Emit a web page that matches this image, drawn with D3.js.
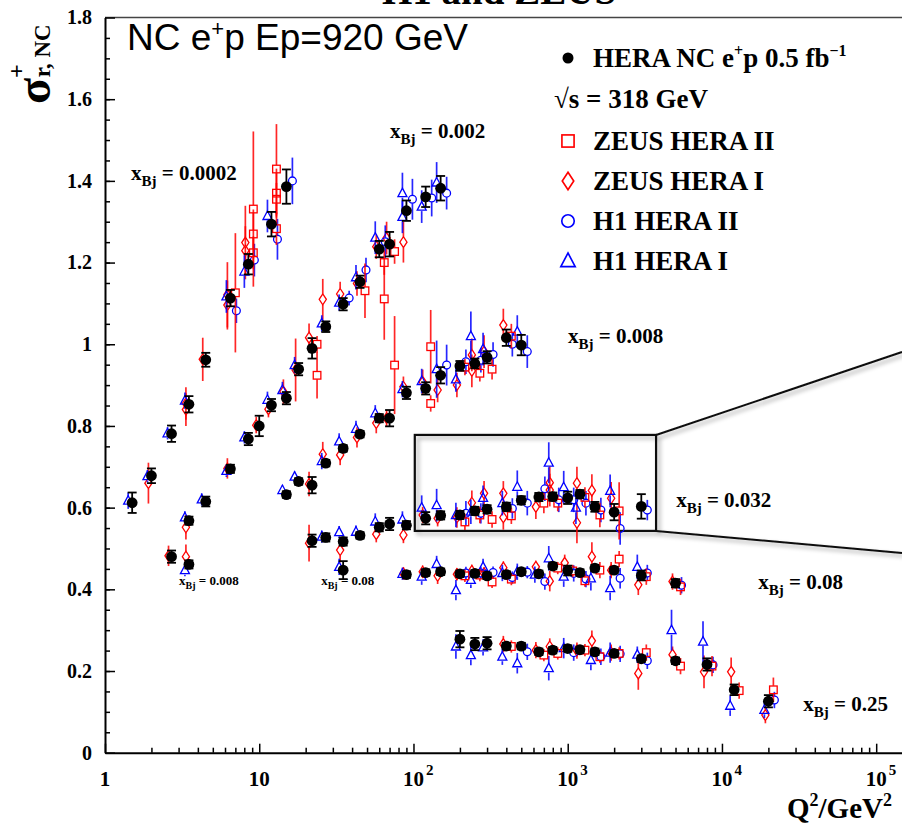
<!DOCTYPE html>
<html>
<head>
<meta charset="utf-8">
<script src="https://cdn.jsdelivr.net/npm/d3@7"></script>
<style>
  body { margin: 0; background: #fff; }
  svg { display: block; }
  text { font-family: "Liberation Serif", "Times New Roman", serif; font-weight: bold; fill: #000; }
</style>
</head>
<body>
<div id="chart"></div>
<script>
// every point is [Q2, sigma_r, error]
var heraComb = [
  // x = 0.0002
  [1.5,0.612,0.025],[2,0.678,0.018],[2.7,0.781,0.02],[3.5,0.853,0.02],[4.5,0.962,0.017],[6.5,1.113,0.02],[8.5,1.196,0.025],[12,1.294,0.03],[15,1.386,0.042],
  // x = 0.002
  [3.5,0.568,0.01],[4.5,0.615,0.012],[6.5,0.695,0.01],[8.5,0.768,0.015],[10,0.80,0.025],[12,0.851,0.015],[15,0.868,0.015],[18,0.939,0.015],[22,0.99,0.025],[27,1.043,0.013],[35,1.098,0.015],[45,1.153,0.015],[60,1.233,0.02],[70,1.245,0.03],[90,1.327,0.025],[120,1.361,0.025],[150,1.382,0.03],
  // x = 0.008
  [2.7,0.48,0.015],[3.5,0.461,0.01],[15,0.632,0.008],[18,0.664,0.008],[22,0.655,0.02],[27,0.709,0.008],[35,0.745,0.008],[45,0.78,0.008],[60,0.819,0.01],[70,0.819,0.02],[90,0.881,0.015],[120,0.892,0.015],[150,0.924,0.02],[200,0.947,0.012],[250,0.953,0.012],[300,0.968,0.015],[400,1.016,0.02],[500,0.998,0.025],
  // x = 0.032
  [22,0.519,0.015],[27,0.527,0.01],[35,0.517,0.01],[45,0.532,0.008],[60,0.552,0.01],[70,0.56,0.015],[90,0.557,0.01],[120,0.574,0.015],[150,0.581,0.01],[200,0.582,0.01],[250,0.592,0.01],[300,0.596,0.01],[400,0.602,0.01],[500,0.618,0.01],[650,0.626,0.01],[800,0.627,0.01],[1000,0.624,0.015],[1200,0.633,0.01],[1500,0.602,0.012],[2000,0.589,0.02],[3000,0.603,0.03],
  // x = 0.08
  [35,0.447,0.022],[90,0.436,0.008],[120,0.441,0.008],[150,0.443,0.008],[200,0.438,0.008],[250,0.439,0.008],[300,0.433,0.008],[400,0.436,0.008],[500,0.443,0.008],[650,0.438,0.008],[800,0.457,0.008],[1000,0.446,0.012],[1200,0.441,0.008],[1500,0.452,0.008],[2000,0.447,0.008],[3000,0.434,0.012],[5000,0.415,0.01],
  // x = 0.25
  [200,0.278,0.02],[250,0.266,0.015],[300,0.268,0.015],[400,0.261,0.008],[500,0.261,0.008],[650,0.247,0.008],[800,0.251,0.008],[1000,0.255,0.008],[1200,0.252,0.008],[1500,0.247,0.008],[2000,0.243,0.008],[3000,0.230,0.008],[5000,0.225,0.008],[8000,0.216,0.015],[12000,0.154,0.013],[20000,0.126,0.015]
];

var zeusHera2 = [
  [6.5,1.126,0.146],[8.5,1.331,0.19],[8.5,1.27,0.06],[8.5,1.224,0.04],[12,1.429,0.11],[12,1.37,0.06],[12,1.355,0.04],[12,1.283,0.04],
  [22,1.0,0.02],[22,0.924,0.057],[45,1.131,0.067],[60,1.2,0.03],[60,1.111,0.1],[70,1.227,0.03],
  [70,0.949,0.12],[120,0.994,0.09],[120,0.855,0.02],[200,0.944,0.02],[250,0.929,0.02],[300,0.939,0.025],[400,1.02,0.03],
  [200,0.565,0.02],[250,0.582,0.02],[300,0.571,0.02],[400,0.58,0.02],[650,0.611,0.025],[800,0.611,0.02],[1200,0.625,0.025],[1500,0.582,0.03],[2000,0.592,0.07],
  [200,0.433,0.015],[250,0.435,0.015],[300,0.418,0.015],[400,0.425,0.015],[800,0.452,0.015],[1000,0.445,0.015],[1200,0.421,0.015],[1500,0.447,0.02],[2000,0.474,0.02],[3000,0.431,0.02],[5000,0.406,0.02],
  [400,0.26,0.015],[650,0.239,0.015],[800,0.243,0.015],[1200,0.251,0.015],[1500,0.235,0.015],[2000,0.243,0.015],[3000,0.245,0.02],[5000,0.212,0.02],[8000,0.212,0.025],[12000,0.152,0.02],[20000,0.154,0.03]
];

var zeusHera1 = [
  [2,0.66,0.05],[3.5,0.855,0.04],[3.5,0.84,0.04],[4.5,0.963,0.053],[6.5,1.121,0.08],[6.5,1.096,0.06],[8.5,1.249,0.09],[8.5,1.229,0.06],
  [3.5,0.552,0.03],[6.5,0.696,0.025],[10,0.802,0.02],[12,0.841,0.02],[15,0.884,0.03],[18,0.937,0.077],[22,1.016,0.035],[27,1.11,0.05],[35,1.123,0.03],[45,1.149,0.03],[60,1.239,0.03],[70,1.26,0.04],[90,1.25,0.05],
  [2.7,0.482,0.025],[3.5,0.48,0.03],[22,0.658,0.03],[27,0.731,0.03],[35,0.729,0.025],[45,0.772,0.025],[60,0.807,0.025],[70,0.819,0.02],[90,0.896,0.025],[120,0.908,0.03],[150,0.888,0.03],[200,0.9,0.03],[250,0.974,0.04],[250,0.935,0.04],[300,0.982,0.04],[400,1.047,0.04],
  [22,0.513,0.045],[35,0.496,0.03],[60,0.535,0.02],[90,0.533,0.02],[120,0.582,0.02],[150,0.574,0.02],[200,0.576,0.025],[250,0.612,0.03],[300,0.635,0.03],[400,0.635,0.03],[400,0.576,0.03],[650,0.602,0.03],[800,0.661,0.04],[800,0.643,0.04],[1200,0.66,0.04],[1200,0.563,0.05],[1500,0.642,0.04],[2000,0.623,0.04],
  [90,0.439,0.015],[120,0.443,0.015],[150,0.433,0.02],[200,0.437,0.015],[250,0.445,0.015],[300,0.439,0.015],[400,0.453,0.015],[650,0.455,0.015],[800,0.42,0.025],[1000,0.465,0.02],[1500,0.48,0.035],[2000,0.447,0.02],[3000,0.411,0.025],[5000,0.419,0.02],
  [400,0.266,0.02],[650,0.251,0.02],[800,0.26,0.02],[1200,0.25,0.02],[1500,0.274,0.025],[2000,0.245,0.02],[3000,0.194,0.04],[5000,0.24,0.02],[8000,0.198,0.04],[12000,0.198,0.035],[20000,0.092,0.02]
];

var h1Hera2 = [
  [6.5,1.082,0.03],[8.5,1.206,0.04],[12,1.257,0.05],[15,1.40,0.057],
  [35,1.113,0.018],[45,1.182,0.03],[60,1.251,0.04],[90,1.355,0.05],[120,1.358,0.045],[150,1.37,0.04],
  [150,0.949,0.05],[200,0.957,0.03],[250,0.961,0.03],[300,0.975,0.03],[400,1.0,0.03],[500,0.982,0.04],
  [200,0.586,0.03],[250,0.586,0.025],[400,0.598,0.025],[500,0.611,0.03],[650,0.646,0.03],[800,0.619,0.03],[1000,0.619,0.03],[1200,0.611,0.03],[1500,0.594,0.03],[2000,0.549,0.04],[3000,0.594,0.025],
  [200,0.44,0.015],[250,0.44,0.015],[300,0.441,0.015],[400,0.429,0.015],[500,0.442,0.015],[650,0.419,0.02],[1000,0.439,0.02],[1200,0.425,0.02],[2000,0.427,0.025],[3000,0.44,0.02],[5000,0.41,0.02],
  [500,0.247,0.02],[1000,0.245,0.02],[1500,0.235,0.02],[2000,0.242,0.02],[3000,0.225,0.02],[8000,0.215,0.02],[20000,0.129,0.02]
];

var h1Hera1 = [
  [1.5,0.617,0.02],[2,0.677,0.015],[2.7,0.782,0.015],[3.5,0.862,0.02],[6.5,1.117,0.04],[8.5,1.178,0.04],[12,1.314,0.04],
  [3.5,0.576,0.015],[4.5,0.62,0.015],[6.5,0.69,0.015],[8.5,0.772,0.015],[12,0.864,0.02],[15,0.888,0.02],[18,0.949,0.02],[27,1.051,0.02],[35,1.102,0.02],[45,1.164,0.03],[60,1.261,0.04],[90,1.37,0.05],[90,1.312,0.04],[120,1.337,0.04],[150,1.396,0.05],
  [3.5,0.447,0.015],[15,0.643,0.012],[18,0.676,0.012],[27,0.714,0.02],[35,0.762,0.02],[45,0.793,0.02],[60,0.831,0.02],[90,0.89,0.02],[120,0.91,0.03],[150,0.939,0.07],[200,0.914,0.03],[250,1.02,0.06],[300,0.988,0.04],[500,1.031,0.04],
  [27,0.529,0.015],[35,0.54,0.015],[45,0.541,0.015],[60,0.566,0.02],[90,0.571,0.02],[120,0.6,0.03],[150,0.606,0.04],[200,0.582,0.03],[250,0.59,0.03],[300,0.624,0.03],[400,0.611,0.03],[500,0.651,0.04],[800,0.71,0.05],[1000,0.65,0.04],[1200,0.60,0.04],[2000,0.641,0.04],
  [35,0.455,0.02],[90,0.438,0.015],[120,0.431,0.02],[150,0.462,0.02],[200,0.398,0.025],[250,0.423,0.02],[300,0.455,0.02],[400,0.44,0.02],[500,0.443,0.02],[650,0.436,0.02],[800,0.476,0.03],[1000,0.431,0.025],[1500,0.427,0.03],[2000,0.403,0.03],[3000,0.455,0.03],
  [200,0.26,0.03],[250,0.239,0.025],[300,0.258,0.02],[400,0.235,0.02],[500,0.219,0.025],[800,0.207,0.03],[1000,0.256,0.025],[1500,0.227,0.025],[2000,0.245,0.025],[3000,0.24,0.02],[5000,0.30,0.05],[8000,0.272,0.05],[12000,0.115,0.025],[20000,0.105,0.02]
];

var legendNames = ['ZEUS HERA II', 'ZEUS HERA I', 'H1 HERA II', 'H1 HERA I'];

// x_Bj labels, anchored in data coordinates [Q2, sigma]
var binLabels = [['0.0002', 1.475, 1.402], ['0.002', 70.5, 1.505], ['0.008', 1006, 1.003],
                 ['0.032', 5047, 0.602], ['0.08', 17180, 0.401], ['0.25', 33650, 0.102]];
var smallLabels = [['0.008', 3.02, 0.411], ['0.08', 25.2, 0.411]];

var xTicks = [1, 10, 100, 1000, 10000, 100000];
var zoomBoxQ2 = [102, 3740], zoomBoxSigma = [0.543, 0.778];
var zoomLinkSigma = [0.981, 0.489];

var W = 902, H = 823;
var svg = d3.select('#chart').append('svg').attr('width', W).attr('height', H);

var x = d3.scaleLog().domain([1, 1.47e5]).range([105, 902]);
var y = d3.scaleLinear().domain([0, 1.8]).range([752.7, 17.5]);

var defs = svg.append('defs');
defs.append('filter').attr('id', 'shadow').attr('x', '-10%').attr('y', '-10%').attr('width', '130%').attr('height', '140%')
  .append('feDropShadow').attr('dx', 3).attr('dy', 3).attr('stdDeviation', 2)
  .attr('flood-color', '#000').attr('flood-opacity', 0.35);

// title, mostly cut off by the top edge (as in the original)
svg.append('text').attr('x', 382).attr('y', 4).style('font-size', '39px').text('H1 and ZEUS');

// frame top line
svg.append('line').attr('x1', 105).attr('x2', W).attr('y1', y(1.8)).attr('y2', y(1.8))
  .attr('stroke', '#444').attr('stroke-width', 1.5);

// y axis
var yAxis = d3.axisLeft(y).tickValues(d3.range(0, 1.81, 0.2)).tickSizeInner(-10).tickSizeOuter(0).tickPadding(13)
  .tickFormat(d => String(+d.toFixed(1)));
var gy = svg.append('g').attr('transform', 'translate(105,0)').call(yAxis);
gy.selectAll('text').style('font-size', '20px').style('font-family', '"Liberation Serif", serif');
svg.append('g').attr('transform', 'translate(105,0)')
  .call(d3.axisLeft(y).tickValues(d3.range(0.05, 1.8, 0.05)).tickSizeInner(-5).tickSizeOuter(0).tickFormat(''))
  .select('.domain').remove();

// x axis
var minor = [];
for (var e = 0; e < 6; e++) for (var k = 2; k < 10; k++) { var v = k * Math.pow(10, e); if (v < 1.47e5) minor.push(v); }
svg.append('g').attr('transform', 'translate(0,' + y(0) + ')')
  .call(d3.axisBottom(x).tickValues(xTicks).tickSizeInner(-9).tickSizeOuter(0).tickFormat(''));
svg.append('g').attr('transform', 'translate(0,' + y(0) + ')')
  .call(d3.axisBottom(x).tickValues(minor).tickSizeInner(-5).tickSizeOuter(0).tickFormat(''))
  .select('.domain').remove();
svg.selectAll('.domain').attr('stroke-width', 2);
svg.selectAll('.tick line').attr('stroke-width', 1.5);

xTicks.forEach(function (t) {
  var p = Math.round(Math.log10(t));
  var base = p < 2 ? String(t) : '10';
  var w = base.length * 10.5;
  var tx = svg.append('text').attr('x', x(t) - w / 2).attr('y', 786).style('font-size', '21px');
  tx.append('tspan').text(base);
  if (p >= 2) tx.append('tspan').attr('dy', -11).attr('dx', 2).style('font-size', '15px').text(p);
});

// axis titles
var xt = svg.append('text').attr('x', 787).attr('y', 818).style('font-size', '29px');
xt.append('tspan').text('Q');
xt.append('tspan').attr('dy', -12).style('font-size', '18px').text('2');
xt.append('tspan').attr('dy', 12).text('/GeV');
xt.append('tspan').attr('dy', -12).style('font-size', '18px').text('2');

var yt = svg.append('text').attr('transform', 'translate(50,104) rotate(-90)');
yt.append('tspan').style('font-size', '48px').text('σ');
yt.append('tspan').attr('dy', -26).style('font-size', '24px').text('+');
yt.append('tspan').attr('dx', -13).attr('dy', 26).style('font-size', '23px').text('r, NC');

svg.append('text').attr('x', 127).attr('y', 50)
  .style('font-family', '"Liberation Sans", Arial, sans-serif').style('font-weight', 'normal').style('font-size', '37px')
  .call(function (t) {
    t.append('tspan').text('NC e');
    t.append('tspan').attr('dy', -14).style('font-size', '22px').text('+');
    t.append('tspan').attr('dy', 14).text('p Ep=920 GeV');
  });

// zoom box and its link lines
var bx0 = x(zoomBoxQ2[0]), bx1 = x(zoomBoxQ2[1]), by0 = y(zoomBoxSigma[1]), by1 = y(zoomBoxSigma[0]);
var links = svg.append('g').attr('filter', 'url(#shadow)');
links.append('rect').attr('x', bx0).attr('y', by0).attr('width', bx1 - bx0).attr('height', by1 - by0)
  .attr('fill', 'none').attr('stroke', '#111').attr('stroke-width', 2.2);
links.append('line').attr('x1', bx1).attr('y1', by0).attr('x2', x(1.47e5)).attr('y2', y(zoomLinkSigma[0]))
  .attr('stroke', '#111').attr('stroke-width', 2);
links.append('line').attr('x1', bx1).attr('y1', by1).attr('x2', x(1.47e5)).attr('y2', y(zoomLinkSigma[1]))
  .attr('stroke', '#111').attr('stroke-width', 2);

// markers
var RED = '#f00', BLUE = '#00f';
function marker(g, type, cx, cy, color, s) {
  s = s || 1;
  if (type === 'square') {
    g.append('rect').attr('x', cx - 3.8 * s).attr('y', cy - 3.8 * s).attr('width', 7.6 * s).attr('height', 7.6 * s);
  } else if (type === 'diamond') {
    g.append('path').attr('d', 'M' + cx + ',' + (cy - 5.5 * s) + 'L' + (cx + 3.6 * s) + ',' + cy + 'L' + cx + ',' + (cy + 5.5 * s) + 'L' + (cx - 3.6 * s) + ',' + cy + 'Z');
  } else if (type === 'circle') {
    g.append('circle').attr('cx', cx).attr('cy', cy).attr('r', 3.9 * s);
  } else {
    g.append('path').attr('d', 'M' + cx + ',' + (cy - 5 * s) + 'L' + (cx + 4.5 * s) + ',' + (cy + 3.5 * s) + 'L' + (cx - 4.5 * s) + ',' + (cy + 3.5 * s) + 'Z');
  }
  g.selectAll(':last-child').attr('fill', 'none').attr('stroke', color).attr('stroke-width', 1.3 * Math.sqrt(s));
}

var series = [
  { data: zeusHera1, type: 'diamond', color: RED, dx: -3, gap: 5.5 },
  { data: h1Hera1, type: 'triangle', color: BLUE, dx: -4, gap: 4.5 },
  { data: h1Hera2, type: 'circle', color: BLUE, dx: 6, gap: 4 },
  { data: zeusHera2, type: 'square', color: RED, dx: 5, gap: 4 }
];

var plot = svg.append('g');
series.forEach(function (s) {
  var g = plot.append('g');
  s.data.forEach(function (d) {
    var cx = x(d[0]) + s.dx, cy = y(d[1]);
    var top = y(d[1] + d[2]), bot = y(d[1] - d[2]);
    if (top < cy - s.gap) g.append('line').attr('x1', cx).attr('x2', cx).attr('y1', top).attr('y2', cy - s.gap);
    if (bot > cy + s.gap) g.append('line').attr('x1', cx).attr('x2', cx).attr('y1', cy + s.gap).attr('y2', bot);
    g.selectAll('line').attr('stroke', s.color).attr('stroke-width', 1.7).attr('stroke-opacity', 0.85);
    marker(g, s.type, cx, cy, s.color);
  });
});

// combined HERA points on top
var gh = plot.append('g');
gh.selectAll('g.err').data(heraComb).enter().append('g').attr('class', 'err')
  .each(function (d) {
    var g = d3.select(this), cx = x(d[0]), t = y(d[1] + d[2]), b = y(d[1] - d[2]);
    g.append('line').attr('x1', cx).attr('x2', cx).attr('y1', t).attr('y2', b);
    g.append('line').attr('x1', cx - 4.5).attr('x2', cx + 4.5).attr('y1', t).attr('y2', t);
    g.append('line').attr('x1', cx - 4.5).attr('x2', cx + 4.5).attr('y1', b).attr('y2', b);
    g.selectAll('line').attr('stroke', '#000').attr('stroke-width', 1.8);
  });
gh.selectAll('circle').data(heraComb).enter().append('circle')
  .attr('cx', d => x(d[0])).attr('cy', d => y(d[1])).attr('r', 5.4).attr('fill', '#000');

// bin labels
function xbjLabel(d, size, subSize) {
  var t = svg.append('text').attr('x', x(d[1])).attr('y', y(d[2])).style('font-size', size + 'px');
  t.append('tspan').text('x');
  t.append('tspan').attr('dy', size * 0.3).style('font-size', subSize + 'px').text('Bj');
  t.append('tspan').attr('dy', -size * 0.3).text(' = ' + d[0]);
}
binLabels.forEach(d => xbjLabel(d, 21, 15));
smallLabels.forEach(d => xbjLabel(d, 13, 10));

// legend
var lg = svg.append('g');
lg.append('circle').attr('cx', 568).attr('cy', 58).attr('r', 5.5).attr('fill', '#000');
var l0 = lg.append('text').attr('x', 593).attr('y', 67).style('font-size', '27px');
l0.append('tspan').text('HERA NC e');
l0.append('tspan').attr('dy', -11).style('font-size', '16px').text('+');
l0.append('tspan').attr('dy', 11).text('p 0.5 fb');
l0.append('tspan').attr('dy', -11).style('font-size', '16px').text('\u22121');
lg.append('text').attr('x', 554).attr('y', 108).style('font-size', '27px').text('\u221As = 318 GeV');
var legendTypes = ['square', 'diamond', 'circle', 'triangle'];
var legendColors = [RED, RED, BLUE, BLUE];
legendNames.forEach(function (name, i) {
  var base = 150 + i * 40;
  var mg = lg.append('g');
  marker(mg, legendTypes[i], 568, base - 9, legendColors[i], 1.6);
  lg.append('text').attr('x', 593).attr('y', base).style('font-size', '27px').text(name);
});
</script>
</body>
</html>
